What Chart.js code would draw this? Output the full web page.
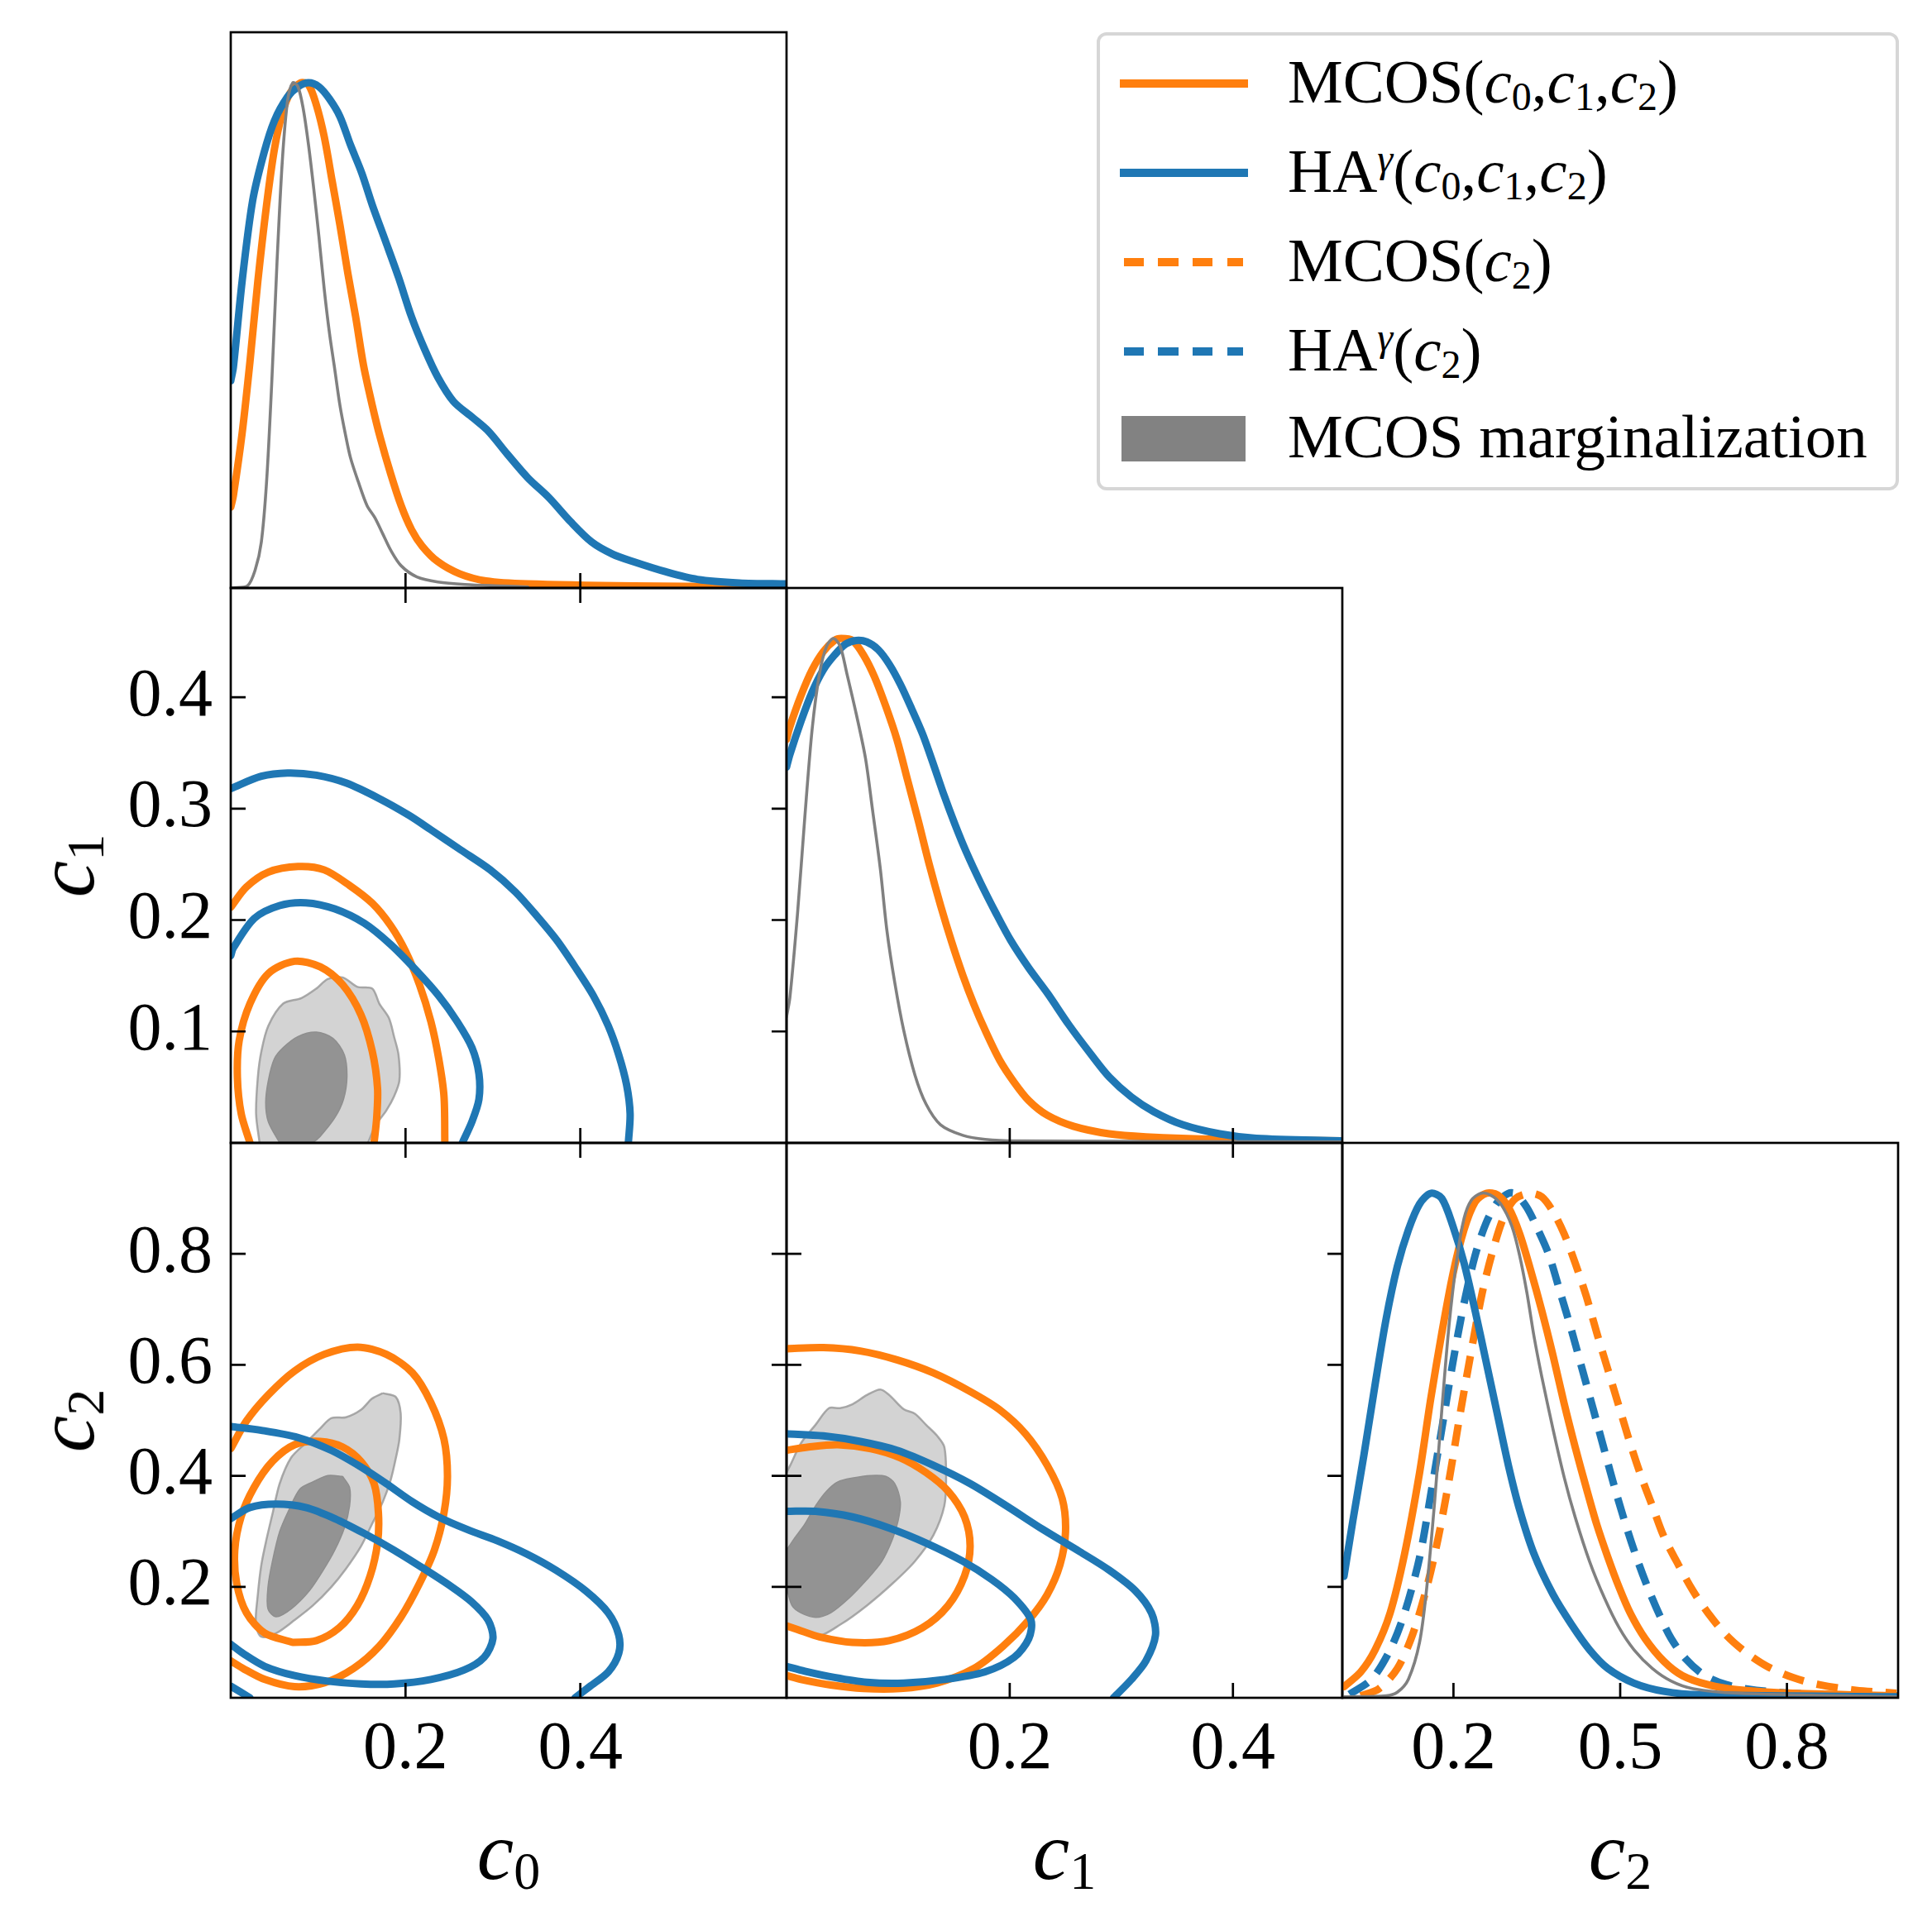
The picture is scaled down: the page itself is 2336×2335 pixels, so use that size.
<!DOCTYPE html>
<html>
<head>
<meta charset="utf-8">
<script src="https://cdn.jsdelivr.net/npm/chart.js"></script>
<style>
  body { margin: 0; background: #fff; }
  #stage { position: relative; width: 2336px; height: 2335px; overflow: hidden; background: #fff; }
  .lab { position: absolute; font-family: "Liberation Serif", serif; font-size: 100px; line-height: 100px; white-space: nowrap; color: #000; }
  .lab i, #legend i { font-style: italic; }
  sub, sup { font-size: 0.64em; line-height: 0; font-style: normal; }
  sub { vertical-align: -0.18em; }
  sup { vertical-align: 0.5em; }
  #legend { position: absolute; left: 1326px; top: 39px; width: 962px; height: 546px; border: 4px solid #d6d6d6; border-radius: 12px; background: #fff; }
  .txt { position: absolute; left: 227px; font-family: "Liberation Serif", serif; font-size: 75px; line-height: 75px; white-space: nowrap; }
  .hnd { position: absolute; left: 24px; }
</style>
</head>
<body>
<div id="stage"></div>
<script>
// axis ranges and ticks
const c0Range = [0, 0.636];
const c1Range = [0, 0.498];
const c2Range = [0, 1.0];
const densRange = [0, 1.1];
const c0Ticks = [0.2, 0.4];
const c1Ticks = [0.1, 0.2, 0.3, 0.4];
const c1xTicks = [0.2, 0.4];
const c2Ticks = [0.2, 0.4, 0.6, 0.8];
const c2xTicks = [0.2, 0.5, 0.8];

// legend
const legendLabels = [
  'MCOS(<i>c</i><sub>0</sub>,<i>c</i><sub>1</sub>,<i>c</i><sub>2</sub>)',
  'HA<sup><i>γ</i></sup>(<i>c</i><sub>0</sub>,<i>c</i><sub>1</sub>,<i>c</i><sub>2</sub>)',
  'MCOS(<i>c</i><sub>2</sub>)',
  'HA<sup><i>γ</i></sup>(<i>c</i><sub>2</sub>)',
  'MCOS marginalization'
];
const axisNames = ['<i>c</i><sub>0</sub>', '<i>c</i><sub>1</sub>', '<i>c</i><sub>2</sub>'];

// 1D marginals, normalised to peak 1  [value, density]
const c0_MCOS = [[0,0.16],[0.003,0.183],[0.013,0.306],[0.022,0.448],[0.031,0.607],[0.041,0.758],[0.050,0.869],[0.059,0.940],[0.068,0.980],[0.080,1.0],[0.089,0.996],[0.098,0.956],[0.107,0.893],[0.116,0.806],[0.125,0.718],[0.134,0.623],[0.143,0.536],[0.152,0.440],[0.162,0.361],[0.171,0.298],[0.183,0.226],[0.195,0.163],[0.207,0.115],[0.219,0.083],[0.237,0.052],[0.262,0.028],[0.292,0.014],[0.340,0.008],[0.461,0.004],[0.637,0.002]];
const c0_HA = [[0,0.41],[0.003,0.437],[0.013,0.607],[0.025,0.766],[0.038,0.861],[0.050,0.925],[0.065,0.972],[0.077,0.992],[0.089,1.0],[0.101,0.992],[0.113,0.968],[0.125,0.933],[0.137,0.877],[0.150,0.821],[0.162,0.758],[0.177,0.687],[0.192,0.615],[0.207,0.536],[0.222,0.472],[0.237,0.417],[0.255,0.369],[0.277,0.337],[0.295,0.310],[0.316,0.266],[0.340,0.218],[0.364,0.179],[0.389,0.131],[0.413,0.091],[0.437,0.067],[0.461,0.052],[0.498,0.032],[0.534,0.017],[0.582,0.010],[0.637,0.008]];
const c0_marg = [[0.001,0],[0.019,0.004],[0.028,0.036],[0.035,0.091],[0.041,0.210],[0.047,0.409],[0.053,0.647],[0.059,0.845],[0.065,0.964],[0.071,1.0],[0.077,0.992],[0.083,0.948],[0.089,0.877],[0.095,0.790],[0.101,0.694],[0.107,0.591],[0.113,0.504],[0.119,0.433],[0.125,0.361],[0.131,0.306],[0.137,0.258],[0.146,0.210],[0.156,0.163],[0.165,0.139],[0.174,0.107],[0.183,0.075],[0.195,0.044],[0.213,0.022],[0.237,0.012],[0.268,0.007],[0.310,0.004],[0.340,0.002]];

const c1_MCOS = [[0,0.80],[0.003,0.825],[0.013,0.887],[0.023,0.938],[0.033,0.974],[0.043,0.996],[0.049,1.0],[0.059,0.996],[0.069,0.967],[0.079,0.923],[0.089,0.865],[0.099,0.799],[0.1085,0.719],[0.118,0.639],[0.128,0.551],[0.138,0.471],[0.148,0.398],[0.158,0.332],[0.168,0.274],[0.178,0.223],[0.191,0.164],[0.204,0.120],[0.217,0.084],[0.2335,0.055],[0.257,0.033],[0.289,0.018],[0.322,0.012],[0.388,0.007],[0.497,0.004]];
const c1_HA = [[0,0.745],[0.003,0.770],[0.013,0.836],[0.023,0.894],[0.033,0.938],[0.043,0.967],[0.053,0.989],[0.0625,0.996],[0.072,0.993],[0.082,0.978],[0.092,0.949],[0.102,0.909],[0.112,0.861],[0.122,0.810],[0.132,0.748],[0.141,0.690],[0.151,0.631],[0.161,0.577],[0.174,0.515],[0.1875,0.456],[0.201,0.401],[0.217,0.347],[0.234,0.296],[0.253,0.234],[0.273,0.175],[0.289,0.131],[0.309,0.091],[0.329,0.062],[0.355,0.036],[0.388,0.018],[0.421,0.009],[0.497,0.004]];
const c1_marg = [[0,0.25],[0.003,0.288],[0.0099,0.456],[0.0164,0.646],[0.023,0.821],[0.0296,0.931],[0.036,0.985],[0.042,1.0],[0.048,0.985],[0.054,0.931],[0.0625,0.850],[0.0707,0.763],[0.077,0.661],[0.084,0.544],[0.090,0.420],[0.097,0.3175],[0.105,0.223],[0.115,0.135],[0.125,0.077],[0.138,0.036],[0.158,0.015],[0.178,0.007],[0.207,0.004],[0.497,0.002]];

const c2_MCOS = [[0.003,0.022],[0.033,0.051],[0.059,0.095],[0.086,0.168],[0.112,0.285],[0.139,0.446],[0.159,0.592],[0.179,0.723],[0.199,0.840],[0.219,0.928],[0.239,0.983],[0.259,1.0],[0.279,0.997],[0.299,0.972],[0.319,0.920],[0.339,0.847],[0.359,0.767],[0.379,0.679],[0.399,0.584],[0.419,0.497],[0.439,0.416],[0.458,0.343],[0.478,0.278],[0.498,0.219],[0.518,0.168],[0.545,0.117],[0.578,0.073],[0.612,0.044],[0.658,0.026],[0.711,0.016],[0.811,0.009],[0.997,0.004]];
const c2_HA = [[0.003,0.241],[0.019,0.351],[0.039,0.482],[0.059,0.621],[0.079,0.752],[0.099,0.855],[0.119,0.928],[0.139,0.979],[0.159,1.0],[0.179,0.990],[0.199,0.935],[0.219,0.862],[0.239,0.767],[0.259,0.665],[0.279,0.562],[0.299,0.460],[0.319,0.373],[0.345,0.285],[0.379,0.205],[0.412,0.146],[0.445,0.095],[0.478,0.058],[0.525,0.029],[0.578,0.013],[0.645,0.006],[0.997,0.002]];
const c2_marg = [[0.003,0.002],[0.079,0.004],[0.099,0.011],[0.119,0.037],[0.139,0.110],[0.152,0.219],[0.166,0.387],[0.179,0.570],[0.192,0.738],[0.206,0.869],[0.219,0.950],[0.232,0.986],[0.249,1.0],[0.266,0.997],[0.285,0.979],[0.305,0.935],[0.319,0.877],[0.332,0.804],[0.345,0.716],[0.359,0.636],[0.379,0.533],[0.399,0.438],[0.419,0.358],[0.445,0.270],[0.472,0.197],[0.498,0.139],[0.525,0.095],[0.558,0.058],[0.592,0.033],[0.631,0.018],[0.711,0.009],[0.997,0.002]];
const c2only_MCOS = [[0.033,0.004],[0.066,0.018],[0.099,0.058],[0.126,0.124],[0.152,0.219],[0.172,0.314],[0.192,0.431],[0.212,0.563],[0.232,0.687],[0.252,0.804],[0.272,0.891],[0.292,0.957],[0.312,0.990],[0.339,1.0],[0.359,0.993],[0.379,0.964],[0.399,0.920],[0.419,0.862],[0.439,0.796],[0.458,0.723],[0.478,0.650],[0.498,0.577],[0.518,0.504],[0.538,0.438],[0.558,0.380],[0.578,0.321],[0.605,0.263],[0.631,0.212],[0.658,0.168],[0.691,0.124],[0.725,0.091],[0.765,0.062],[0.811,0.040],[0.858,0.026],[0.924,0.015],[0.997,0.009]];
const c2only_HA = [[0.013,0.007],[0.053,0.037],[0.086,0.095],[0.112,0.168],[0.139,0.278],[0.159,0.402],[0.179,0.533],[0.199,0.665],[0.219,0.782],[0.239,0.877],[0.259,0.942],[0.279,0.982],[0.299,1.0],[0.312,0.999],[0.332,0.972],[0.352,0.928],[0.372,0.877],[0.392,0.804],[0.412,0.730],[0.432,0.650],[0.452,0.570],[0.472,0.489],[0.492,0.409],[0.512,0.336],[0.532,0.270],[0.552,0.212],[0.572,0.161],[0.592,0.117],[0.618,0.077],[0.651,0.045],[0.691,0.026],[0.745,0.015],[0.844,0.007],[0.997,0.003]];

// 2D credible contours  [x, y]
const c0c1_HA_out = [[0,0.318],[0.035,0.329],[0.065,0.332],[0.098,0.330],[0.132,0.323],[0.170,0.309],[0.204,0.294],[0.229,0.281],[0.263,0.263],[0.297,0.245],[0.326,0.225],[0.351,0.203],[0.373,0.182],[0.394,0.158],[0.415,0.132],[0.432,0.105],[0.444,0.079],[0.453,0.052],[0.457,0.026],[0.455,0]];
const c0c1_HA_in = [[0,0.168],[0.003,0.175],[0.027,0.2015],[0.056,0.213],[0.086,0.2155],[0.119,0.210],[0.153,0.197],[0.183,0.178],[0.212,0.155],[0.238,0.132],[0.259,0.109],[0.276,0.0855],[0.284,0.062],[0.284,0.039],[0.276,0.019],[0.265,0]];
const c0c1_MCOS_out = [[0,0.2115],[0.018,0.2297],[0.043,0.243],[0.077,0.248],[0.107,0.245],[0.136,0.231],[0.162,0.215],[0.183,0.195],[0.200,0.172],[0.216,0.142],[0.229,0.109],[0.238,0.0756],[0.244,0.042],[0.245,0]];
const c0c1_MCOS_in = [[0.022,0],[0.012,0.026],[0.0076,0.059],[0.0097,0.092],[0.022,0.125],[0.043,0.152],[0.073,0.163],[0.1025,0.158],[0.128,0.142],[0.149,0.115],[0.162,0.082],[0.168,0.049],[0.167,0.0225],[0.164,0]];
const c0c1_marg_out = [[0.033,0],[0.029,0.026],[0.031,0.059],[0.035,0.082],[0.043,0.105],[0.060,0.125],[0.081,0.130],[0.098,0.1385],[0.111,0.147],[0.128,0.1485],[0.145,0.140],[0.162,0.1385],[0.170,0.125],[0.181,0.112],[0.187,0.095],[0.192,0.079],[0.193,0.056],[0.187,0.042],[0.178,0.029],[0.166,0.016],[0.157,0]];
const c0c1_marg_in = [[0.056,0],[0.043,0.019],[0.040,0.036],[0.043,0.056],[0.050,0.0756],[0.060,0.0855],[0.077,0.0955],[0.098,0.0994],[0.117,0.0938],[0.130,0.079],[0.133,0.059],[0.129,0.039],[0.119,0.0225],[0.1025,0.006],[0.094,0]];

const c0c2_MCOS_out = [[0,0.449],[0.018,0.499],[0.043,0.546],[0.073,0.589],[0.107,0.619],[0.145,0.632],[0.178,0.619],[0.208,0.5855],[0.229,0.532],[0.244,0.466],[0.248,0.399],[0.244,0.333],[0.233,0.266],[0.216,0.206],[0.195,0.146],[0.170,0.093],[0.1405,0.053],[0.107,0.027],[0.073,0.020],[0.039,0.033],[0.014,0.053],[0,0.0665]];
const c0c2_MCOS_in = [[0.071,0.0998],[0.039,0.1164],[0.018,0.153],[0.0068,0.206],[0.0046,0.266],[0.0118,0.326],[0.0266,0.379],[0.0477,0.426],[0.073,0.456],[0.1025,0.462],[0.128,0.452],[0.149,0.426],[0.164,0.386],[0.169,0.333],[0.168,0.279],[0.1595,0.2196],[0.1447,0.166],[0.124,0.126],[0.098,0.103],[0.071,0.0998]];
const c0c2_HA_out = [[0,0.489],[0.035,0.482],[0.077,0.469],[0.115,0.446],[0.149,0.416],[0.178,0.386],[0.208,0.353],[0.2376,0.326],[0.271,0.303],[0.305,0.283],[0.339,0.259],[0.3726,0.2295],[0.406,0.193],[0.432,0.153],[0.444,0.113],[0.444,0.080],[0.432,0.0466],[0.4105,0.020],[0.394,0]];
const c0c2_HA_corner = [[0,0.021],[0.022,0]];
const c0c2_HA_in = [[0,0.323],[0.022,0.343],[0.052,0.349],[0.0857,0.343],[0.119,0.323],[0.153,0.296],[0.187,0.266],[0.2207,0.233],[0.250,0.203],[0.2755,0.173],[0.2945,0.140],[0.300,0.1065],[0.290,0.073],[0.267,0.050],[0.229,0.033],[0.187,0.025],[0.149,0.025],[0.111,0.030],[0.073,0.040],[0.039,0.0566],[0.014,0.080],[0,0.0965]];
const c0c2_marg_out = [[0.174,0.549],[0.189,0.542],[0.1945,0.512],[0.193,0.466],[0.189,0.4325],[0.183,0.3925],[0.174,0.353],[0.1616,0.313],[0.149,0.273],[0.132,0.233],[0.115,0.1996],[0.094,0.1663],[0.073,0.140],[0.052,0.1164],[0.035,0.110],[0.0287,0.133],[0.031,0.186],[0.035,0.2395],[0.041,0.286],[0.048,0.333],[0.056,0.386],[0.069,0.4325],[0.0857,0.459],[0.1025,0.4857],[0.115,0.504],[0.132,0.5057],[0.149,0.519],[0.1616,0.539],[0.174,0.549]];
const c0c2_marg_in = [[0.128,0.399],[0.136,0.379],[0.136,0.346],[0.130,0.306],[0.119,0.266],[0.107,0.233],[0.090,0.193],[0.069,0.160],[0.052,0.146],[0.0426,0.160],[0.0426,0.1996],[0.0477,0.246],[0.056,0.2994],[0.0667,0.339],[0.079,0.376],[0.094,0.389],[0.111,0.4005],[0.128,0.399]];

const c1c2_MCOS_out = [[0,0.629],[0.033,0.631],[0.066,0.625],[0.099,0.609],[0.1316,0.5855],[0.1645,0.552],[0.191,0.519],[0.214,0.476],[0.2336,0.419],[0.247,0.359],[0.250,0.299],[0.245,0.2395],[0.2336,0.186],[0.217,0.140],[0.194,0.093],[0.168,0.053],[0.135,0.0266],[0.102,0.0166],[0.069,0.0166],[0.0395,0.023],[0.013,0.033],[0,0.040]];
const c1c2_MCOS_in = [[0,0.446],[0.0197,0.452],[0.046,0.456],[0.0757,0.449],[0.102,0.4325],[0.125,0.406],[0.1447,0.3726],[0.1595,0.326],[0.1645,0.273],[0.1595,0.2196],[0.1447,0.166],[0.1217,0.126],[0.092,0.103],[0.059,0.0998],[0.0296,0.1098],[0.0099,0.123],[0,0.1297]];
const c1c2_HA_out = [[0,0.4757],[0.033,0.472],[0.066,0.462],[0.099,0.446],[0.1316,0.419],[0.1645,0.386],[0.197,0.346],[0.230,0.303],[0.263,0.263],[0.2895,0.2295],[0.3125,0.193],[0.327,0.153],[0.3306,0.113],[0.322,0.0665],[0.309,0.033],[0.293,0]];
const c1c2_HA_in = [[0,0.336],[0.026,0.336],[0.059,0.326],[0.092,0.306],[0.125,0.279],[0.158,0.246],[0.184,0.213],[0.204,0.180],[0.219,0.140],[0.217,0.1065],[0.204,0.073],[0.1776,0.0466],[0.1414,0.033],[0.105,0.0266],[0.072,0.028],[0.043,0.0366],[0.0164,0.048],[0,0.0566]];
const c1c2_marg_out = [[0,0.133],[0.026,0.110],[0.049,0.133],[0.072,0.1663],[0.095,0.206],[0.115,0.246],[0.1316,0.293],[0.1414,0.346],[0.143,0.399],[0.1414,0.452],[0.135,0.472],[0.125,0.492],[0.115,0.512],[0.105,0.520],[0.092,0.5456],[0.084,0.5555],[0.072,0.5456],[0.059,0.529],[0.048,0.522],[0.038,0.522],[0.026,0.492],[0.013,0.459],[0.0033,0.419],[0,0.406]];
const c1c2_marg_in = [[0,0.1996],[0.0049,0.1663],[0.013,0.153],[0.026,0.145],[0.0395,0.153],[0.056,0.1796],[0.072,0.213],[0.0855,0.246],[0.095,0.286],[0.100,0.319],[0.102,0.3526],[0.097,0.386],[0.089,0.399],[0.0757,0.4005],[0.059,0.396],[0.046,0.389],[0.036,0.3726],[0.026,0.346],[0.0164,0.313],[0.0066,0.286],[0,0.266]];

const ORANGE = '#ff7f0e', BLUE = '#1f77b4', GRAY = '#808080';
const cols = [279, 951, 1623, 2295];
const rows = [39, 711, 1382, 2053];
const stage = document.getElementById('stage');

const pts = a => a.map(p => ({x: p[0], y: p[1]}));

function lineDs(data, color, width, dash, order) {
  return {data: pts(data), borderColor: color, borderWidth: width, borderDash: dash || [],
    borderJoinStyle: 'round', borderCapStyle: dash ? 'butt' : 'round', fill: false, tension: 0.3, order: order};
}
function fillDs(data, color, edge, edgeW, order) {
  return {data: pts(data), borderColor: edge, borderWidth: edgeW, backgroundColor: color,
    fill: 'shape', tension: 0.3, order: order};
}

// tick marks pointing inward and the frame
const framePlugin = {
  id: 'frame',
  afterDatasetsDraw(chart, args, opts) {
    const {ctx, chartArea: a, scales} = chart;
    const tl = 18;
    ctx.save();
    ctx.strokeStyle = '#000';
    ctx.lineWidth = 2.7;
    ctx.beginPath();
    (opts.bottom || []).forEach(v => { const x = scales.x.getPixelForValue(v); ctx.moveTo(x, a.bottom); ctx.lineTo(x, a.bottom - tl); });
    (opts.top || []).forEach(v => { const x = scales.x.getPixelForValue(v); ctx.moveTo(x, a.top); ctx.lineTo(x, a.top + tl); });
    (opts.left || []).forEach(v => { const y = scales.y.getPixelForValue(v); ctx.moveTo(a.left, y); ctx.lineTo(a.left + tl, y); });
    (opts.right || []).forEach(v => { const y = scales.y.getPixelForValue(v); ctx.moveTo(a.right, y); ctx.lineTo(a.right - tl, y); });
    ctx.stroke();
    ctx.strokeRect(a.left, a.top, a.right - a.left, a.bottom - a.top);
    ctx.restore();
  }
};

function axis(dir, range, labelTicks) {
  const ax = {
    type: 'linear', min: range[0], max: range[1],
    display: !!labelTicks,
    position: dir === 'x' ? 'bottom' : 'left',
    grid: {display: false, drawTicks: false},
    border: {display: false},
    ticks: {autoSkip: false, maxRotation: 0, padding: dir === 'x' ? 14 : 22, color: '#000',
      font: {family: 'Liberation Serif', size: 82}, callback: v => v.toFixed(1)}
  };
  if (labelTicks) {
    ax.afterBuildTicks = s => { s.ticks = labelTicks.map(v => ({value: v})); };
    ax.afterFit = s => {
      if (dir === 'x') s.height = 130; else s.width = 200;
      s.paddingTop = 0; s.paddingBottom = 0; s.paddingLeft = 0; s.paddingRight = 0;
    };
  }
  return ax;
}

function panel(col, row, cfg) {
  const padT = 14, padR = 14;
  const padL = cfg.yLabels ? 200 : 14;
  const padB = cfg.xLabels ? 130 : 14;
  const w = cols[col + 1] - cols[col] + padL + padR;
  const h = rows[row + 1] - rows[row] + padT + padB;
  const cv = document.createElement('canvas');
  cv.width = w; cv.height = h;
  cv.style.cssText = 'position:absolute;left:' + (cols[col] - padL) + 'px;top:' + (rows[row] - padT) + 'px;width:' + w + 'px;height:' + h + 'px';
  stage.appendChild(cv);
  new Chart(cv, {
    type: 'line',
    data: {datasets: cfg.datasets},
    options: {
      responsive: false, animation: false, devicePixelRatio: 1,
      layout: {padding: {left: cfg.yLabels ? 0 : padL, right: padR, top: padT, bottom: cfg.xLabels ? 0 : padB}},
      plugins: {legend: {display: false}, tooltip: {enabled: false}, frame: cfg.ticks},
      elements: {point: {radius: 0}},
      scales: {x: axis('x', cfg.xr, cfg.xLabels), y: axis('y', cfg.yr, cfg.yLabels)}
    },
    plugins: [framePlugin]
  });
}

const LW = 9, GW = 3.6;
const lightFill = '#d3d3d3', lightEdge = 'rgba(150,150,150,0.8)', darkFill = '#939393', darkEdge = '#8e8e8e';

// row 0: c0 marginal
panel(0, 0, {xr: c0Range, yr: densRange, ticks: {bottom: c0Ticks}, datasets: [
  lineDs(c0_marg, GRAY, GW, null, 0), lineDs(c0_HA, BLUE, LW, null, 1), lineDs(c0_MCOS, ORANGE, LW, null, 2)]});

// row 1: c0-c1 contours, c1 marginal
panel(0, 1, {xr: c0Range, yr: c1Range, yLabels: c1Ticks,
  ticks: {bottom: c0Ticks, top: c0Ticks, left: c1Ticks, right: c1Ticks}, datasets: [
  lineDs(c0c1_HA_out, BLUE, LW, null, 1), lineDs(c0c1_HA_in, BLUE, LW, null, 1),
  lineDs(c0c1_MCOS_out, ORANGE, LW, null, 2), lineDs(c0c1_MCOS_in, ORANGE, LW, null, 2),
  fillDs(c0c1_marg_in, darkFill, darkEdge, 1.5, 5), fillDs(c0c1_marg_out, lightFill, lightEdge, 2.5, 6)]});
panel(1, 1, {xr: c1Range, yr: densRange, ticks: {bottom: c1xTicks}, datasets: [
  lineDs(c1_marg, GRAY, GW, null, 0), lineDs(c1_HA, BLUE, LW, null, 1), lineDs(c1_MCOS, ORANGE, LW, null, 2)]});

// row 2: c0-c2, c1-c2 contours, c2 marginal
panel(0, 2, {xr: c0Range, yr: c2Range, xLabels: c0Ticks, yLabels: c2Ticks,
  ticks: {bottom: c0Ticks, top: c0Ticks, left: c2Ticks, right: c2Ticks}, datasets: [
  lineDs(c0c2_HA_out, BLUE, LW, null, 1), lineDs(c0c2_HA_corner, BLUE, LW, null, 1), lineDs(c0c2_HA_in, BLUE, LW, null, 1),
  lineDs(c0c2_MCOS_out, ORANGE, LW, null, 2), lineDs(c0c2_MCOS_in, ORANGE, LW, null, 2),
  fillDs(c0c2_marg_in, darkFill, darkEdge, 1.5, 5), fillDs(c0c2_marg_out, lightFill, lightEdge, 2.5, 6)]});
panel(1, 2, {xr: c1Range, yr: c2Range, xLabels: c1xTicks,
  ticks: {bottom: c1xTicks, top: c1xTicks, left: c2Ticks, right: c2Ticks}, datasets: [
  lineDs(c1c2_HA_out, BLUE, LW, null, 1), lineDs(c1c2_HA_in, BLUE, LW, null, 1),
  lineDs(c1c2_MCOS_out, ORANGE, LW, null, 2), lineDs(c1c2_MCOS_in, ORANGE, LW, null, 2),
  fillDs(c1c2_marg_in, darkFill, darkEdge, 1.5, 5), fillDs(c1c2_marg_out, lightFill, lightEdge, 2.5, 6)]});
panel(2, 2, {xr: c2Range, yr: densRange, xLabels: c2xTicks, ticks: {bottom: c2xTicks}, datasets: [
  lineDs(c2_marg, GRAY, GW, null, 0), lineDs(c2_HA, BLUE, LW, null, 1), lineDs(c2_MCOS, ORANGE, LW, null, 2),
  lineDs(c2only_HA, BLUE, LW, [26, 16], 3), lineDs(c2only_MCOS, ORANGE, LW, [26, 16], 4)]});

// axis labels
axisNames.forEach((name, i) => {
  const d = document.createElement('div');
  d.className = 'lab';
  d.innerHTML = name;
  d.style.left = ((cols[i] + cols[i + 1]) / 2) + 'px';
  d.style.top = '2189px';
  d.style.transform = 'translateX(-50%)';
  stage.appendChild(d);
});
[1, 2].forEach(i => {
  const d = document.createElement('div');
  d.className = 'lab';
  d.innerHTML = axisNames[i];
  d.style.left = '80px';
  d.style.top = ((rows[i] + rows[i + 1]) / 2) + 'px';
  d.style.transform = 'translate(-50%,-50%) rotate(-90deg)';
  stage.appendChild(d);
});

// legend
const legend = document.createElement('div');
legend.id = 'legend';
stage.appendChild(legend);
const handleY = [58, 166, 274, 382, 487];
const handles = [
  'left:24px;width:155px;height:10px;background:' + ORANGE,
  'left:24px;width:155px;height:10px;background:' + BLUE,
  'left:29px;width:144px;height:10px;background:repeating-linear-gradient(90deg,' + ORANGE + ' 0 24px,transparent 24px 41.5px)',
  'left:29px;width:144px;height:10px;background:repeating-linear-gradient(90deg,' + BLUE + ' 0 24px,transparent 24px 41.5px)',
  'left:26px;width:150px;height:55px;background:#828282'
];
legendLabels.forEach((lab, i) => {
  const h = document.createElement('div');
  h.className = 'hnd';
  h.style.cssText = handles[i];
  const hh = i === 4 ? 55 : 10;
  h.style.top = (handleY[i] - hh / 2) + 'px';
  legend.appendChild(h);
  const t = document.createElement('div');
  t.className = 'txt';
  t.innerHTML = lab;
  t.style.top = (handleY[i] - 40) + 'px';
  legend.appendChild(t);
});
</script>
</body>
</html>
